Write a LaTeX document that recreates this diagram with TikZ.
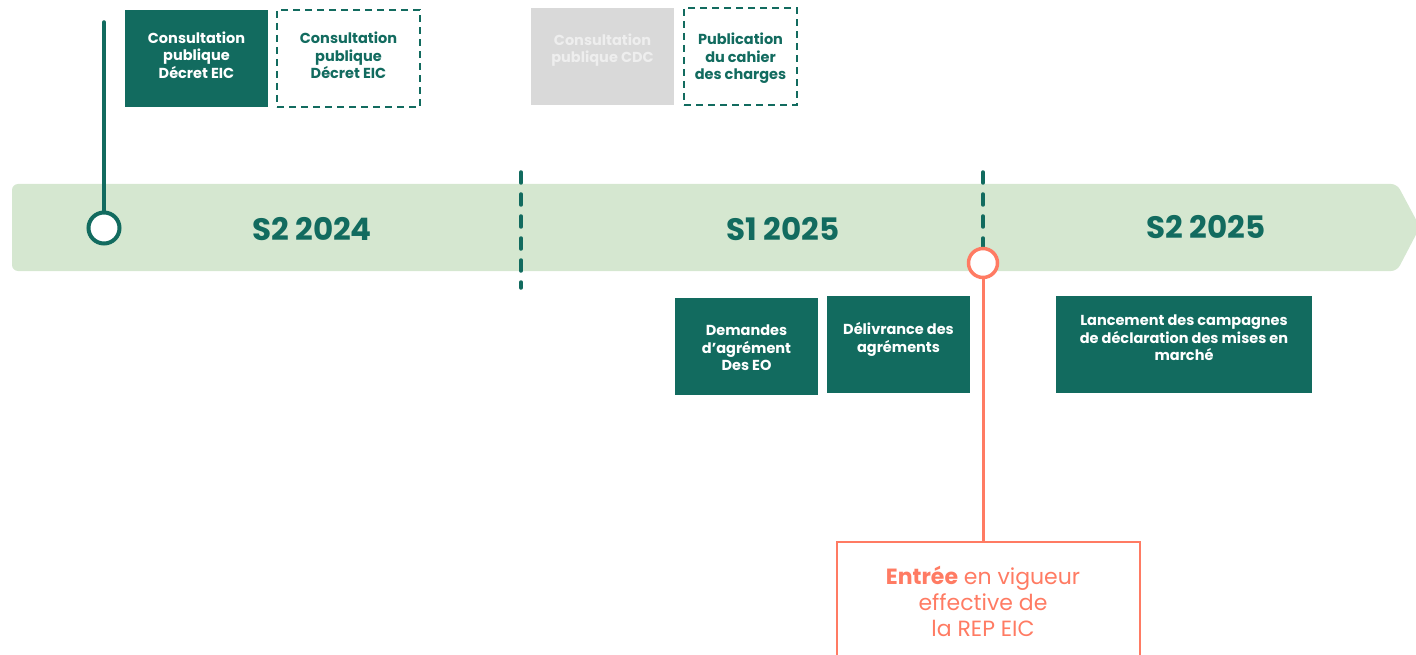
\documentclass[tikz,border=0pt]{standalone}
\usepackage{fontspec}
\setmainfont{Poppins}
\definecolor{dkgreen}{RGB}{18,107,95}
\definecolor{ltgreen}{RGB}{213,231,208}
\definecolor{coral}{RGB}{255,123,99}
\definecolor{grayfill}{RGB}{217,217,217}
\definecolor{graytext}{RGB}{238,238,238}
\begin{document}
\begin{tikzpicture}[x=1pt,y=-1pt,
  boxtext/.style={font=\fontsize{14.5}{17.5}\selectfont\bfseries, align=center},
  filledbox/.style={fill=dkgreen, draw=none, text=white, inner sep=0pt},
  dashbox/.style={draw=dkgreen, line width=2pt, dash pattern=on 7pt off 5pt, text=dkgreen, inner sep=0pt},
  grbox/.style={fill=grayfill, draw=none, text=graytext, inner sep=0pt},
  period/.style={font=\fontsize{31}{36}\selectfont\bfseries, text=dkgreen},
  sepline/.style={draw=dkgreen, line width=3.5pt, line cap=round, dash pattern=on 11pt off 11pt}
]
\useasboundingbox (0,0) rectangle (1416,655);
% band
\fill[ltgreen, rounded corners=6pt] (12,184) -- (1397,184) -- (1420,227) -- (1397,271) -- (12,271) -- cycle;
% separators
\coordinate (s1a) at (521,172);
\coordinate (s1b) at (521,288);
\coordinate (s2a) at (983,172);
\coordinate (s2b) at (983,250);
\draw[sepline] (s1a) -- (s1b);
\draw[sepline] (s2a) -- (s2b);
% period labels
\node[period] (p1) at (312,229) {S2 2024};
\node[period] (p2) at (783,229) {S1 2025};
\node[period] (p3) at (1206,227) {S2 2025};
% start milestone
\coordinate (m0top) at (104,22);
\node[circle, draw=dkgreen, line width=4pt, fill=white, minimum size=31pt, inner sep=0pt] (m0) at (104,228) {};
\draw[dkgreen, line width=3.5pt, line cap=round] (m0top) -- (m0.north);
% top boxes
\node[filledbox, minimum width=143pt, minimum height=97pt] (b1) at (196.5,58.5) {};
\node[boxtext, text=white] (t1) at (196.5,55) {Consultation\\publique\\Décret EIC};
\node[dashbox, minimum width=143pt, minimum height=97pt] (b2) at (348.5,58.5) {};
\node[boxtext, text=dkgreen] (t2) at (348.5,55.5) {Consultation\\publique\\Décret EIC};
\node[grbox, minimum width=143pt, minimum height=97pt] (b3) at (602.5,56.5) {};
\node[boxtext, text=graytext] (t3) at (602.5,50) {Consultation\\publique CDC};
\node[dashbox, minimum width=113pt, minimum height=97pt] (b4) at (740.5,56.5) {};
\node[boxtext, text=dkgreen] (t4) at (740.5,58.5) {Publication\\du cahier\\des charges};
% bottom boxes
\node[filledbox, minimum width=143pt, minimum height=97pt] (b5) at (746.5,346.5) {};
\node[boxtext, text=white] (t5) at (746.5,348) {Demandes\\d’agrément\\Des EO};
\node[filledbox, minimum width=143pt, minimum height=97pt] (b6) at (898.5,344.5) {};
\node[boxtext, text=white] (t6) at (898.5,339.5) {Délivrance des\\agréments};
\node[filledbox, minimum width=256pt, minimum height=97pt] (b7) at (1184,344.5) {};
\node[boxtext, text=white] (t7) at (1184,338) {Lancement des campagnes\\de déclaration des mises en\\marché};
% end milestone
\node[draw=coral, line width=2pt, minimum width=303pt, minimum height=130pt, inner sep=0pt, anchor=north west] (eb) at (836,541) {};
\node[circle, draw=coral, line width=3.5pt, fill=white, minimum size=29pt, inner sep=0pt] (m1) at (983,263) {};
\draw[coral, line width=3pt] (m1.south) -- (m1.south |- eb.north);
\node[text=coral, align=center, font=\fontsize{22}{26}\selectfont] (et) at (983,601) {\textbf{Entrée} en vigueur\\effective de\\la REP EIC};
\end{tikzpicture}
\end{document}
